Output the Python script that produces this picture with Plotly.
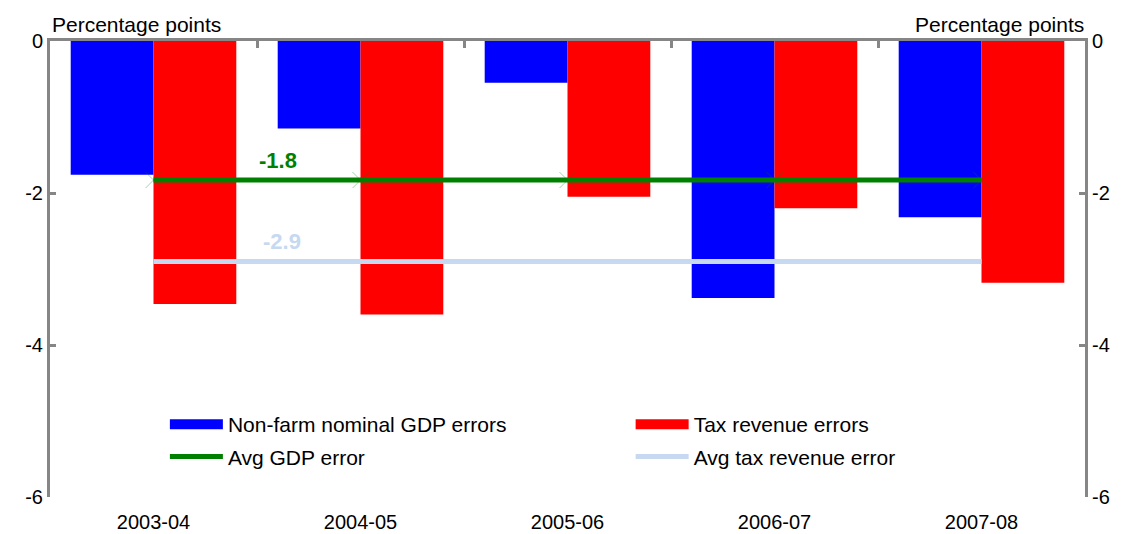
import plotly.graph_objects as go

# Forecast errors by year (percentage points)
years = ["2003-04", "2004-05", "2005-06", "2006-07", "2007-08"]
gdp_errors = [-1.76, -1.15, -0.55, -3.38, -2.32]
tax_errors = [-3.46, -3.60, -2.05, -2.20, -3.18]
avg_gdp_error = -1.83
avg_tax_error = -2.90
y_ticks = [0, -2, -4, -6]
y_tick_text = ["0", "-2", "-4", "-6"]

FONT = "Liberation Sans, Arial, sans-serif"
AXIS_GREY = "#868686"
BLUE = "#0000FF"
RED = "#FF0000"
GREEN = "#008000"
LIGHT_BLUE = "#C6D9F0"

xpos = list(range(len(years)))

fig = go.Figure()

fig.add_trace(go.Bar(x=xpos, y=gdp_errors, name="Non-farm nominal GDP errors",
                     marker=dict(color=BLUE, line=dict(width=0)), showlegend=False))
fig.add_trace(go.Bar(x=xpos, y=tax_errors, name="Tax revenue errors",
                     marker=dict(color=RED, line=dict(width=0)), showlegend=False))

# average lines
fig.add_trace(go.Scatter(x=xpos, y=[avg_gdp_error] * len(xpos), mode="lines",
                         line=dict(color=GREEN, width=5), showlegend=False))
fig.add_trace(go.Scatter(x=xpos, y=[avg_tax_error] * len(xpos), mode="lines",
                         line=dict(color=LIGHT_BLUE, width=5), showlegend=False))
# faint point markers on the green line
fig.add_trace(go.Scatter(
    x=xpos, y=[avg_gdp_error] * len(xpos), mode="markers", showlegend=False,
    marker=dict(symbol="x-thin", size=16, line=dict(width=1, color="rgba(0,128,0,0.35)")),
    hoverinfo="skip",
))

# legend entries (wide swatches like the original), two columns
legend_items = [
    ("Non-farm nominal GDP errors", BLUE, 14, "legend"),
    ("Avg GDP error", GREEN, 5, "legend"),
    ("Tax revenue errors", RED, 14, "legend2"),
    ("Avg tax revenue error", LIGHT_BLUE, 5, "legend2"),
]
for i, (name, color, w, lg) in enumerate(legend_items):
    fig.add_trace(go.Scatter(x=[None], y=[None], mode="lines", name=name,
                             line=dict(color=color, width=w), legend=lg,
                             legendgroup=f"g{i}", showlegend=True))

# value labels for the averages
fig.add_annotation(x=0.6, y=avg_gdp_error + 0.26, text=f"<b>{avg_gdp_error:.1f}</b>",
                   showarrow=False, font=dict(family=FONT, size=22, color=GREEN))
fig.add_annotation(x=0.62, y=avg_tax_error + 0.26, text=f"<b>{avg_tax_error:.1f}</b>",
                   showarrow=False, font=dict(family=FONT, size=22, color=LIGHT_BLUE))

# axis titles
fig.add_annotation(x=0, y=1, xref="paper", yref="paper", xanchor="left", yanchor="bottom",
                   text="Percentage points", showarrow=False, xshift=0, yshift=3,
                   font=dict(family=FONT, size=21, color="black"))
fig.add_annotation(x=1, y=1, xref="paper", yref="paper", xanchor="right", yanchor="bottom",
                   text="Percentage points", showarrow=False, xshift=1, yshift=3,
                   font=dict(family=FONT, size=21, color="black"))

legend_common = dict(
    orientation="v", yanchor="top", xanchor="left",
    bgcolor="rgba(0,0,0,0)", font=dict(family=FONT, size=21),
    tracegroupgap=2, itemwidth=53,
)

# page body has an 8px margin, so the figure is sized/offset to compensate
fig.update_layout(
    width=1117, height=526,
    margin=dict(l=42, r=40, t=33, b=37, autoexpand=False),
    plot_bgcolor="white", paper_bgcolor="white",
    font=dict(family=FONT, size=20, color="black"),
    barmode="group", bargap=0.2, bargroupgap=0,
    legend=dict(x=0.111, y=0.204, **legend_common),
    legend2=dict(x=0.561, y=0.204, **legend_common),
    xaxis=dict(
        range=[-0.5, len(years) - 0.5],
        tickvals=xpos, ticktext=years, automargin=False,
        showline=False, showgrid=False, zeroline=False,
        ticks="outside", ticklen=7, tickcolor="rgba(0,0,0,0)",
        tickfont=dict(family=FONT, size=20),
    ),
    xaxis2=dict(
        overlaying="x", matches="x", side="top", automargin=False,
        tickvals=[i + 0.5 for i in xpos[:-1]],
        showticklabels=False, showline=True, linecolor=AXIS_GREY, linewidth=3,
        ticks="inside", ticklen=7, tickwidth=3, tickcolor=AXIS_GREY,
        showgrid=False, zeroline=False,
    ),
    yaxis=dict(
        range=[-6, 0], tickvals=y_ticks, ticktext=y_tick_text, automargin=False,
        showline=True, linecolor=AXIS_GREY, linewidth=3,
        ticks="inside", ticklen=6, tickwidth=3, tickcolor=AXIS_GREY,
        showgrid=False, zeroline=False,
        tickfont=dict(family=FONT, size=20),
    ),
    yaxis2=dict(
        overlaying="y", matches="y", side="right", automargin=False,
        tickvals=y_ticks, ticktext=y_tick_text,
        showline=True, linecolor=AXIS_GREY, linewidth=3,
        ticks="inside", ticklen=6, tickwidth=3, tickcolor=AXIS_GREY,
        showgrid=False, zeroline=False,
        tickfont=dict(family=FONT, size=20),
    ),
)

# invisible trace to activate the secondary axes
fig.add_trace(go.Scatter(x=[0], y=[0], xaxis="x2", yaxis="y2", mode="markers",
                         marker=dict(opacity=0), showlegend=False, hoverinfo="skip"))

fig.write_html("out.html")
